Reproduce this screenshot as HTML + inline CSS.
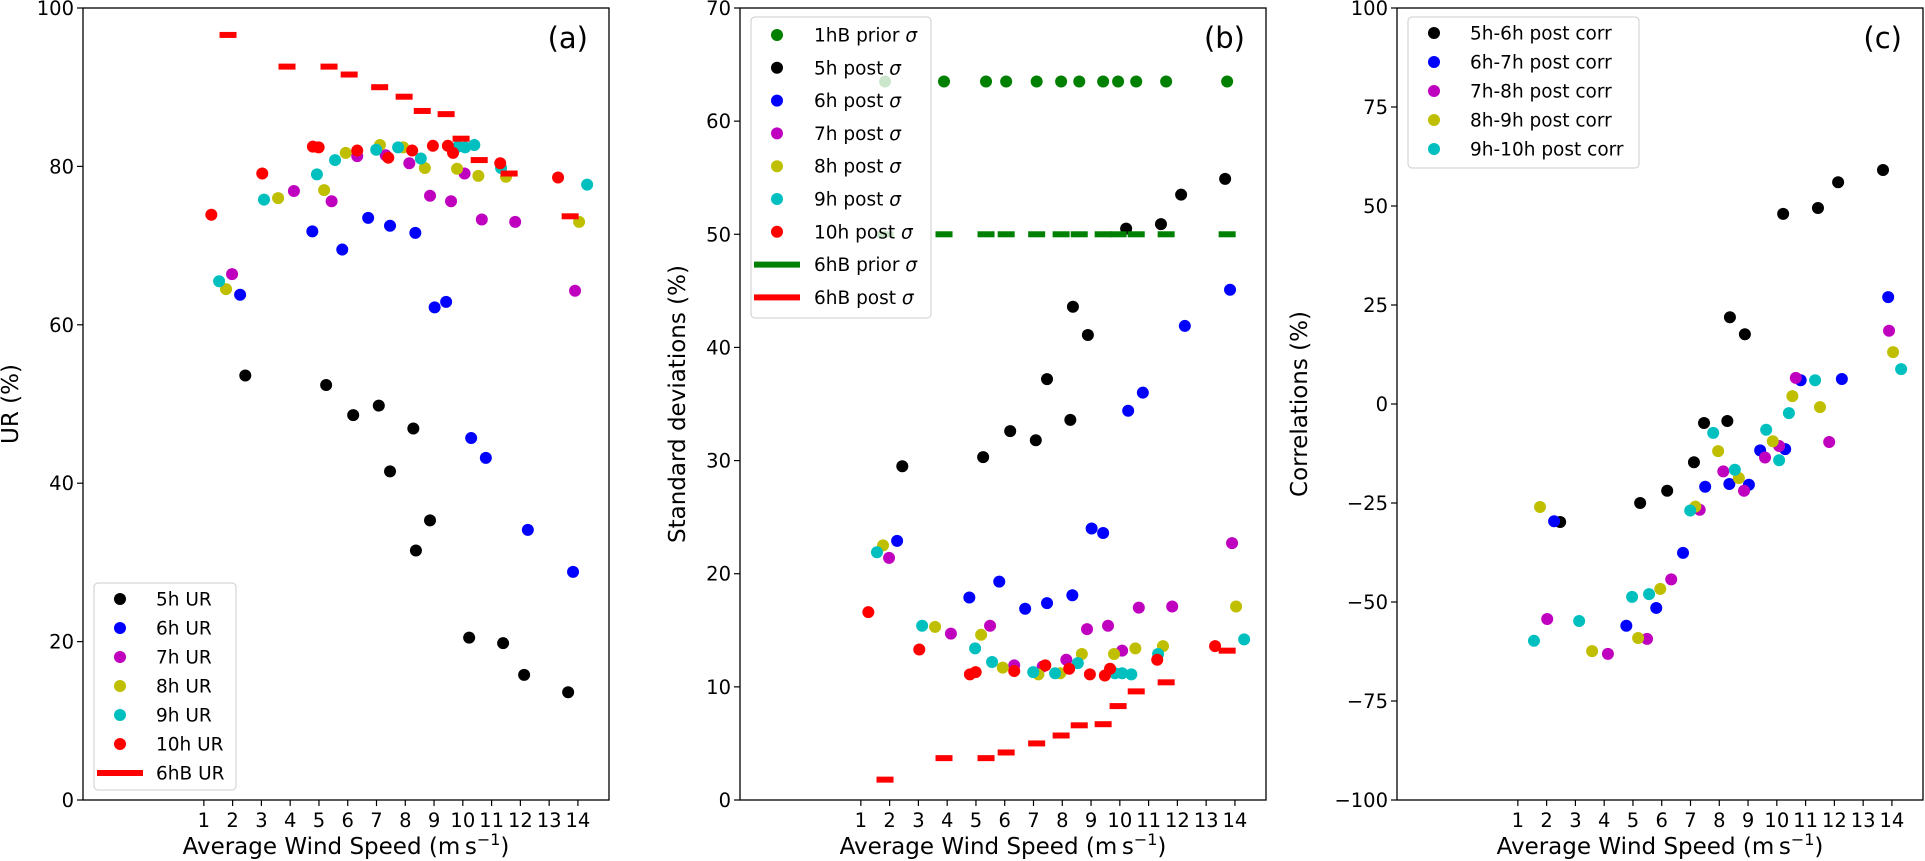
<!DOCTYPE html>
<html><head><meta charset="utf-8"><style>
html,body{margin:0;padding:0;background:#fff;}
svg{display:block;font-family:"DejaVu Sans","Liberation Sans",sans-serif;}
</style></head><body>
<svg id="fig" width="1925" height="861" viewBox="0 0 1925 861" xmlns="http://www.w3.org/2000/svg"></svg>
<script>
// ---------- x tick labels ----------
const xTicks=[1,2,3,4,5,6,7,8,9,10,11,12,13,14];
// ---------- panel (a) ----------
const aBlackX=[2.44,5.25,6.19,7.08,8.28,7.47,8.86,8.37,10.22,11.40,12.13,13.66];
const aBlackY=[53.6,52.4,48.6,49.8,46.9,41.5,35.3,31.5,20.5,19.8,15.8,13.6];
const aBlueX=[2.26,4.77,5.81,6.71,7.47,8.35,9.02,9.42,10.29,10.80,12.26,13.83];
const aBlueY=[63.8,71.8,69.5,73.5,72.5,71.6,62.2,62.9,45.7,43.2,34.1,28.8];
const aMagX=[1.98,4.13,5.44,6.33,7.32,8.14,8.86,9.59,10.06,10.66,11.82,13.90];
const aMagY=[66.4,76.9,75.6,81.3,81.4,80.4,76.3,75.6,79.1,73.3,73.0,64.3];
const aYelX=[1.77,3.58,5.18,5.93,7.12,7.93,8.68,9.80,10.54,11.50,14.04];
const aYelY=[64.5,76.0,77.0,81.7,82.7,82.4,79.8,79.7,78.8,78.7,73.0];
const aCyaX=[1.53,3.09,4.93,5.56,6.99,7.75,8.54,9.83,10.08,10.40,11.33,14.32];
const aCyaY=[65.5,75.8,79.0,80.8,82.1,82.4,81.0,82.5,82.4,82.7,79.8,77.7];
const aRedX=[1.26,3.03,4.79,4.99,6.33,7.41,8.24,8.96,9.48,9.66,11.30,13.31];
const aRedY=[73.9,79.1,82.5,82.4,82.0,81.1,82.0,82.6,82.6,81.7,80.4,78.6];
const windBX=[1.84,3.89,5.35,6.05,7.11,7.96,8.59,9.42,9.94,10.57,11.61,13.73];
const aBUR=[96.6,92.6,92.6,91.6,90.0,88.8,87.0,86.6,83.5,80.8,79.1,73.7];
const aYTicks=[0,20,40,60,80,100];
// ---------- panel (b) ----------
const bPriorDot=[63.5,63.5,63.5,63.5,63.5,63.5,63.5,63.5,63.5,63.5,63.5,63.5];
const bPriorB=[50,50,50,50,50,50,50,50,50,50,50,50];
const bPostB=[1.8,3.7,3.7,4.2,5.0,5.7,6.6,6.7,8.3,9.6,10.4,13.2];
const bBlackY=[29.5,30.3,32.6,31.8,37.2,33.6,43.6,41.1,50.5,50.9,53.5,54.9];
const bBlackX=[2.44,5.25,6.19,7.08,7.47,8.28,8.37,8.89,10.22,11.43,12.13,13.66];
const bBlueY=[22.9,17.9,19.3,16.9,17.4,18.1,24.0,23.6,34.4,36.0,41.9,45.1];
const bMagY=[21.4,14.7,15.4,11.9,11.8,12.4,15.1,15.4,13.2,17.0,17.1,22.7];
const bMagX=[1.98,4.13,5.49,6.33,7.32,8.14,8.86,9.59,10.08,10.66,11.82,13.90];
const bYelX=[1.77,3.58,5.18,5.93,7.17,7.93,8.68,9.80,10.54,11.50,14.04];
const bYelY=[22.5,15.3,14.6,11.7,11.1,11.2,12.9,12.9,13.4,13.6,17.1];
const bCyaX=[1.56,3.13,4.97,5.56,6.99,7.75,8.54,9.83,10.08,10.40,11.33,14.32];
const bCyaY=[21.9,15.4,13.4,12.2,11.3,11.2,12.1,11.2,11.2,11.1,12.9,14.2];
const bRedY=[16.6,13.3,11.1,11.3,11.4,11.9,11.6,11.1,11.0,11.6,12.4,13.6];
const bYTicks=[0,10,20,30,40,50,60,70];
// ---------- panel (c) ----------
const cBlackX=[2.47,5.25,6.19,7.12,7.47,8.28,8.37,8.89,10.22,11.43,12.13,13.69];
const cBlackY=[-29.8,-25.0,-21.9,-14.7,-4.8,-4.3,21.9,17.6,48.0,49.5,56.0,59.1];
const cBlueX=[2.26,4.77,5.81,6.74,7.51,8.35,9.03,9.42,10.29,10.83,12.26,13.87];
const cBlueY=[-29.6,-56.0,-51.5,-37.6,-20.9,-20.2,-20.4,-11.7,-11.4,6.0,6.3,27.0];
const cMagX=[2.02,4.13,5.49,6.33,7.32,8.14,8.86,9.59,10.08,10.66,11.82,13.90];
const cMagY=[-54.3,-63.1,-59.3,-44.3,-26.7,-17.0,-21.9,-13.5,-10.6,6.6,-9.6,18.5];
const cYelX=[1.77,3.58,5.18,5.95,7.17,7.96,8.68,9.86,10.54,11.50,14.04];
const cYelY=[-26.0,-62.4,-59.1,-46.7,-25.9,-11.9,-18.7,-9.4,2.0,-0.8,13.1];
const cCyaX=[1.56,3.13,4.97,5.56,6.99,7.79,8.54,9.63,10.08,10.42,11.33,14.32];
const cCyaY=[-59.8,-54.8,-48.7,-48.0,-26.9,-7.3,-16.6,-6.5,-14.2,-2.3,6.0,8.8];
const cYTicks=[-100,-75,-50,-25,0,25,50,75,100];

const NS="http://www.w3.org/2000/svg";
const svg=document.getElementById('fig');
const X0=-3.2,X1=15.08,TOP=8,BOT=800;
const C={k:'#000000',b:'#0000ff',m:'#bf00bf',y:'#bfbf00',c:'#00bfbf',r:'#ff0000',g:'#008000'};
function el(tag,attrs,parent){const e=document.createElementNS(NS,tag);for(const k in attrs)e.setAttribute(k,attrs[k]);(parent||svg).appendChild(e);return e;}

function makePanel(L,R,ymin,ymax,name){
  const g=el('g',{});
  
  
  return {L,R,ymin,ymax,g,
    sx:v=>L+(v-X0)/(X1-X0)*(R-L),
    sy:v=>BOT-(v-ymin)/(ymax-ymin)*(BOT-TOP)};
}
function axes(p,yt,ylab,ylabX,tag){
  const fr=el('rect',{x:p.L,y:TOP,width:p.R-p.L,height:BOT-TOP,fill:'none',stroke:'#000','stroke-width':1.3},p.g);
  
  
  xTicks.forEach(t=>{const x=p.sx(t);
    el('line',{x1:x,x2:x,y1:BOT,y2:BOT+6,stroke:'#000','stroke-width':1.2},p.g);
    const tx=el('text',{x:x,y:BOT+27,'font-size':19.5,'text-anchor':'middle'},p.g);tx.textContent=t;
    
    
  });
  yt.forEach(t=>{const y=p.sy(t);
    el('line',{x1:p.L-6,x2:p.L,y1:y,y2:y,stroke:'#000','stroke-width':1.2},p.g);
    const tx=el('text',{x:p.L-9,y:y+7,'font-size':19.5,'text-anchor':'end'},p.g);tx.textContent=String(t).replace('-','\u2212');
    
    
  });
  const xl=el('text',{x:(p.L+p.R)/2,y:854,'font-size':23,'text-anchor':'middle'},p.g);
  xl.innerHTML='Average Wind Speed (m\u2009s<tspan dy="-9" font-size="16">\u22121</tspan><tspan dy="9">)</tspan>';
  
  
  const yl=el('text',{x:ylabX,y:404,'font-size':23,'text-anchor':'middle',transform:`rotate(-90 ${ylabX} 404)`},p.g);
  yl.textContent=ylab;
  
  
  const pt=el('text',{x:p.R-21,y:48,'font-size':29,'text-anchor':'end'},p.g);pt.textContent=tag;
  
  
}
function dots(p,xs,ys,col,name){xs.forEach((x,i)=>{
  const c=el('circle',{cx:p.sx(x),cy:p.sy(ys[i]),r:6,fill:col},p.g);
  
  
});}
function dashes(p,xs,ys,col,name){xs.forEach((x,i)=>{
  const r=el('rect',{x:p.sx(x)-8.5,y:p.sy(ys[i])-3,width:17,height:6,fill:col},p.g);
  
  
});}
function legend(p,x,y,w,h,rows,markX,textX,y0,dy,name){
  const lg=el('g',{},p.g);
  
  
  el('rect',{x:x,y:y,width:w,height:h,rx:4,fill:'rgba(255,255,255,0.8)',stroke:'#cccccc','stroke-width':1},lg);
  rows.forEach((r,i)=>{const yy=y0+i*dy;
    if(r[2]==='line') el('rect',{x:markX-23,y:yy-3,width:46,height:6,fill:r[1]},lg);
    else el('circle',{cx:markX,cy:yy,r:6,fill:r[1]},lg);
    const t=el('text',{x:textX,y:yy+6.5,'font-size':18.5},lg);t.innerHTML=r[0];
    
    
  });
}
const sig='<tspan font-style="italic">\u03c3</tspan>';

// Panel a
const pa=makePanel(83,609,0,100,'panel-a');
axes(pa,aYTicks,'UR (%)',18,'(a)');
dots(pa,aBlackX,aBlackY,C.k,'5h-ur-point');
dots(pa,aBlueX,aBlueY,C.b,'6h-ur-point');
dots(pa,aMagX,aMagY,C.m,'7h-ur-point');
dots(pa,aYelX,aYelY,C.y,'8h-ur-point');
dots(pa,aCyaX,aCyaY,C.c,'9h-ur-point');
dots(pa,aRedX,aRedY,C.r,'10h-ur-point');
dashes(pa,windBX,aBUR,C.r,'6hb-ur-dash');
legend(pa,94,583,142,207,[['5h UR',C.k],['6h UR',C.b],['7h UR',C.m],['8h UR',C.y],['9h UR',C.c],['10h UR',C.r],['6hB UR',C.r,'line']],120,156,599,29,'legend-a');

// Panel b
const pb=makePanel(740,1266,0,70,'panel-b');
axes(pb,bYTicks,'Standard deviations (%)',685,'(b)');
dots(pb,windBX,bPriorDot,C.g,'1hb-prior-sigma-point');
dots(pb,bBlackX,bBlackY,C.k,'5h-post-sigma-point');
dots(pb,aBlueX,bBlueY,C.b,'6h-post-sigma-point');
dots(pb,bMagX,bMagY,C.m,'7h-post-sigma-point');
dots(pb,bYelX,bYelY,C.y,'8h-post-sigma-point');
dots(pb,bCyaX,bCyaY,C.c,'9h-post-sigma-point');
dots(pb,aRedX,bRedY,C.r,'10h-post-sigma-point');
dashes(pb,windBX,bPriorB,C.g,'6hb-prior-sigma-dash');
dashes(pb,windBX,bPostB,C.r,'6hb-post-sigma-dash');
legend(pb,751,17,180,301,[['1hB prior '+sig,C.g],['5h post '+sig,C.k],['6h post '+sig,C.b],['7h post '+sig,C.m],['8h post '+sig,C.y],['9h post '+sig,C.c],['10h post '+sig,C.r],['6hB prior '+sig,C.g,'line'],['6hB post '+sig,C.r,'line']],777,814,35,32.8,'legend-b');

// Panel c
const pc=makePanel(1397,1923,-100,100,'panel-c');
axes(pc,cYTicks,'Correlations (%)',1307,'(c)');
dots(pc,cBlackX,cBlackY,C.k,'5h-6h-corr-point');
dots(pc,cBlueX,cBlueY,C.b,'6h-7h-corr-point');
dots(pc,cMagX,cMagY,C.m,'7h-8h-corr-point');
dots(pc,cYelX,cYelY,C.y,'8h-9h-corr-point');
dots(pc,cCyaX,cCyaY,C.c,'9h-10h-corr-point');
legend(pc,1408,17,231,151,[['5h-6h post corr',C.k],['6h-7h post corr',C.b],['7h-8h post corr',C.m],['8h-9h post corr',C.y],['9h-10h post corr',C.c]],1434,1470,33,29,'legend-c');
</script>
</body></html>
